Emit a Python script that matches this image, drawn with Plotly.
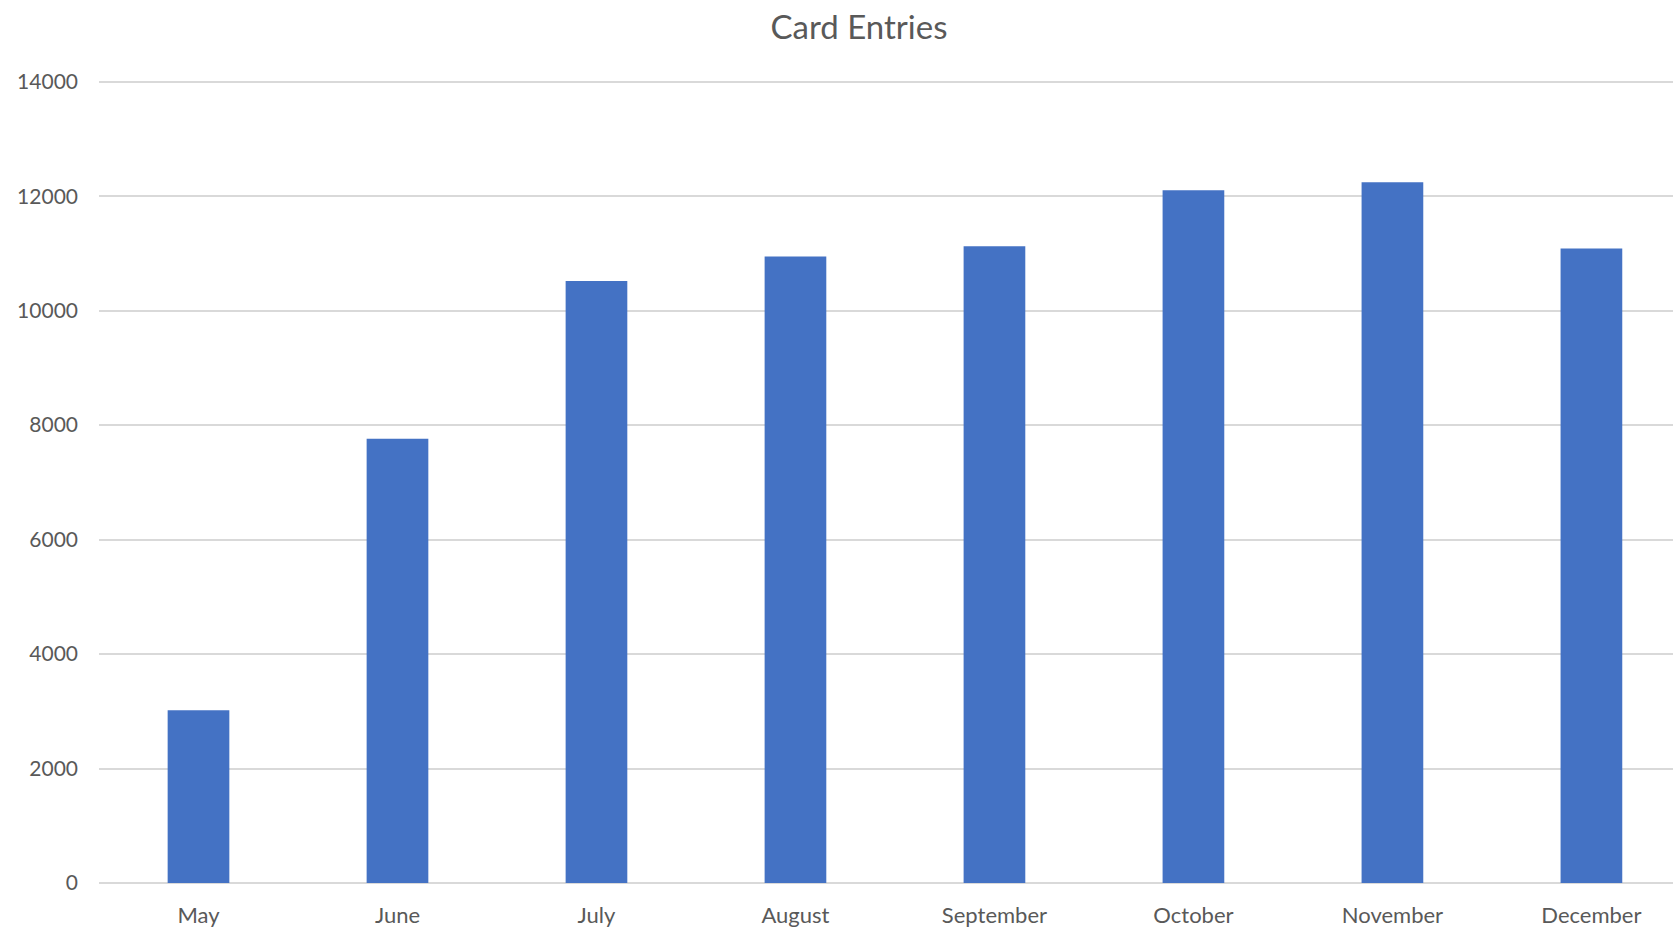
import plotly.graph_objects as go

months = ["May", "June", "July", "August", "September", "October", "November", "December"]
entries = [3020, 7760, 10520, 10945, 11125, 12105, 12245, 11085]
y_ticks = [0, 2000, 4000, 6000, 8000, 10000, 12000, 14000]

FONT = "Lato, 'Open Sans', sans-serif"
TXT = "#595959"

fig = go.Figure(go.Bar(x=months, y=entries, marker=dict(color="#4472C4", line=dict(width=0))))

fig.update_layout(
    width=1673, height=927,
    margin=dict(l=99, r=0, t=80, b=44),
    paper_bgcolor="white", plot_bgcolor="white",
    bargap=0.69,
    showlegend=False,
    title=dict(text="Card Entries", x=859 / 1673, xanchor="center", xref="container",
               y=1 - 27 / 927, yanchor="middle", yref="container",
               font=dict(family=FONT, size=33, color=TXT)),
    font=dict(family=FONT, color=TXT),
)
fig.update_xaxes(range=[-0.5, 7.41], showgrid=False, showline=False, zeroline=False,
                 ticks="", tickfont=dict(size=22, color=TXT), ticklabelstandoff=17)
fig.update_yaxes(range=[0, 14030], tickvals=y_ticks, tickformat="d", showgrid=True,
                 gridcolor="#d9d9d9", gridwidth=1.5, zeroline=True, zerolinecolor="#d9d9d9",
                 zerolinewidth=1.5, showline=False, ticks="",
                 tickfont=dict(size=21, color=TXT), ticklabelstandoff=20)

fig.write_html("out.html", config={"displayModeBar": False},
               post_script="document.body.style.margin='0';")
